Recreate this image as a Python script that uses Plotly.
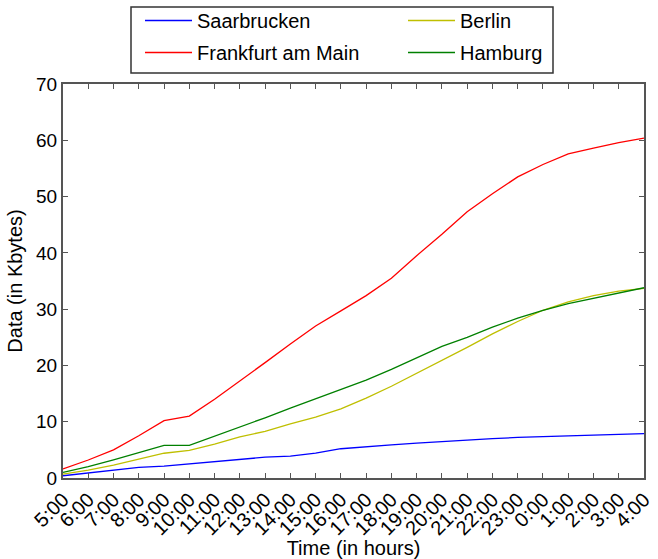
import plotly.graph_objects as go

hours = ["5:00", "6:00", "7:00", "8:00", "9:00", "10:00", "11:00", "12:00", "13:00",
         "14:00", "15:00", "16:00", "17:00", "18:00", "19:00", "20:00", "21:00",
         "22:00", "23:00", "0:00", "1:00", "2:00", "3:00", "4:00"]

saarbrucken = [0.4, 0.9, 1.4, 1.9, 2.1, 2.5, 2.9, 3.3, 3.7, 3.9, 4.4, 5.2, 5.6, 5.9,
               6.2, 6.5, 6.8, 7.0, 7.2, 7.4, 7.5, 7.6, 7.7, 7.9]
frankfurt = [1.6, 3.2, 5.0, 7.5, 10.2, 11.0, 14.0, 17.2, 20.5, 23.8, 27.0, 29.7, 32.4,
             35.5, 39.5, 43.3, 47.3, 50.5, 53.5, 55.7, 57.6, 58.6, 59.6, 60.4]
berlin = [0.7, 1.4, 2.3, 3.4, 4.4, 4.9, 6.0, 7.3, 8.3, 9.6, 10.8, 12.3, 14.2, 16.3,
          18.6, 20.8, 23.2, 25.6, 27.8, 29.8, 31.3, 32.4, 33.2, 33.7]
hamburg = [1.0, 2.0, 3.2, 4.5, 5.8, 5.8, 7.4, 9.0, 10.7, 12.4, 14.1, 15.8, 17.4, 19.3,
           21.4, 23.4, 25.0, 26.8, 28.4, 29.8, 31.0, 31.9, 32.8, 33.8]

y_ticks = [0, 10, 20, 30, 40, 50, 60, 70]

FONT = "Liberation Sans, Arial, sans-serif"
AX = "#555555"

fig = go.Figure()
series = [
    ("Saarbrucken", saarbrucken, "#0000ff", "legend"),
    ("Frankfurt am Main", frankfurt, "#ff0000", "legend"),
    ("Berlin", berlin, "#bfbf00", "legend2"),
    ("Hamburg", hamburg, "#008000", "legend2"),
]
for i, (name, vals, col, lg) in enumerate(series):
    fig.add_trace(go.Scatter(x=list(range(len(hours))), y=vals, name=name, mode="lines",
                             line=dict(color=col, width=1.3), legend=lg,
                             legendgroup=name))

axis_common = dict(showline=True, linecolor=AX, linewidth=2, mirror="allticks",
                   ticks="inside", ticklen=5, tickwidth=1, tickcolor=AX,
                   showgrid=False, zeroline=False, automargin=False)

H = 394.0
W = 581.0
fig.update_layout(
    width=658, height=559,
    margin=dict(l=63, r=14, t=84, b=81, autoexpand=False),
    paper_bgcolor="white", plot_bgcolor="white",
    font=dict(family=FONT, size=20, color="black"),
    xaxis=dict(range=[0, len(hours) - 1], tickmode="array",
               tickvals=list(range(len(hours))), ticktext=hours, tickangle=-45,
               tickfont=dict(family=FONT, size=20, color="black"),
               title=dict(text="Time (in hours)", font=dict(size=20), standoff=12),
               **axis_common),
    yaxis=dict(range=[0, 70], tickmode="array", tickvals=y_ticks,
               tickfont=dict(family=FONT, size=19, color="black"),
               title=dict(text="Data (in Kbytes)", font=dict(size=20), standoff=8),
               **axis_common),
    legend=dict(x=(140 - 63) / W, y=1 + 83 / H, xanchor="left", yanchor="top",
                orientation="v", itemwidth=47,
                bgcolor="rgba(0,0,0,0)", borderwidth=0, tracegroupgap=3,
                font=dict(family=FONT, size=20)),
    legend2=dict(x=(403 - 63) / W, y=1 + 83 / H, xanchor="left", yanchor="top",
                 orientation="v", itemwidth=47,
                 bgcolor="rgba(0,0,0,0)", borderwidth=0, tracegroupgap=3,
                 font=dict(family=FONT, size=20)),
    shapes=[dict(type="rect", xref="paper", yref="paper",
                 x0=(131 - 63) / W, x1=(553 - 63) / W,
                 y0=1 + (84 - 73) / H, y1=1 + (84 - 7) / H,
                 line=dict(color="#333333", width=1.5))],
)

fig.write_html("out.html")
